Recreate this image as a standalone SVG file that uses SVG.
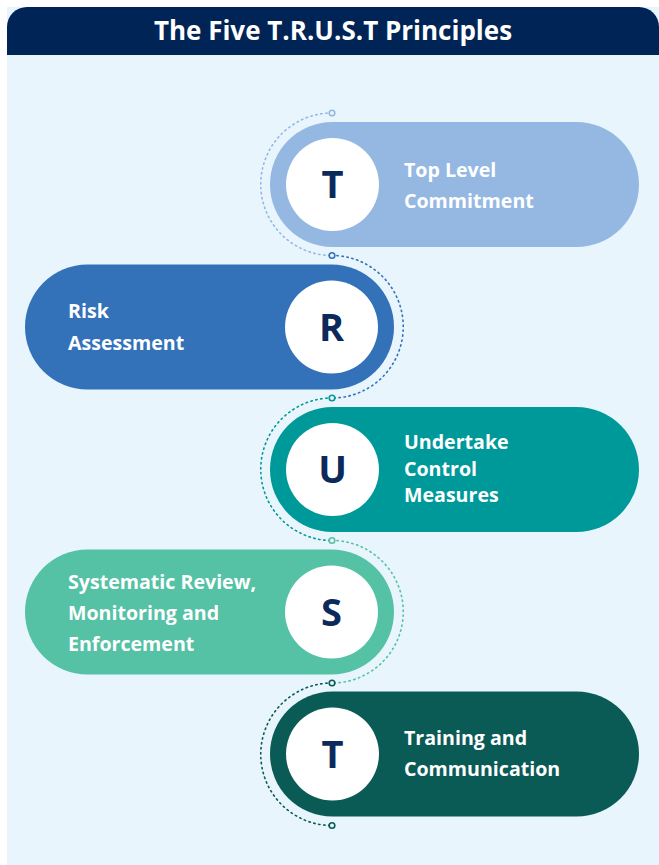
<svg xmlns="http://www.w3.org/2000/svg" width="659" height="865" viewBox="0 0 659 865">
<style>
.lbl{font-family:"Open Sans","Liberation Sans",sans-serif;font-weight:700;font-size:19.6px;fill:#ffffff}
.ltr{font-family:"Open Sans","Liberation Sans",sans-serif;font-weight:700;font-size:38px;fill:#0B2A5B;text-anchor:middle}
.arc{fill:none;stroke-width:1.6;stroke-dasharray:1.4 3.6;stroke-linecap:round}
.dot{fill:#E8F5FC;stroke-width:1.6}
</style>
<rect x="7" y="7" width="652" height="858" fill="#E8F5FC"/>
<path d="M7 55 V27 A20 20 0 0 1 27 7 H639 A20 20 0 0 1 659 27 V55 Z" fill="#012457"/>
<text x="333" y="40" text-anchor="middle" style="font-family:'Open Sans','Liberation Sans',sans-serif;font-weight:700;font-size:26px;fill:#ffffff">The Five T.R.U.S.T Principles</text>
<g id="connectors">
<path class="arc" stroke="#95B8E3" d="M332 113 A71.25 71.25 0 0 0 332 255.5"/>
<path class="arc" stroke="#3371B9" d="M332 255.5 A71.25 71.25 0 0 1 332 398"/>
<path class="arc" stroke="#00999A" d="M332 398 A71.25 71.25 0 0 0 332 540.5"/>
<path class="arc" stroke="#55C1A5" d="M332 540.5 A71.25 71.25 0 0 1 332 683"/>
<path class="arc" stroke="#0A5A56" d="M332 683 A71.25 71.25 0 0 0 332 825.5"/>
<circle class="dot" cx="332" cy="113" r="2.8" stroke="#95B8E3"/>
<circle class="dot" cx="332" cy="255.5" r="2.8" stroke="#3371B9"/>
<circle class="dot" cx="332" cy="398" r="2.8" stroke="#00999A"/>
<circle class="dot" cx="332" cy="540.5" r="2.8" stroke="#55C1A5"/>
<circle class="dot" cx="332" cy="683" r="2.8" stroke="#0A5A56"/>
<circle class="dot" cx="332" cy="825.5" r="2.8" stroke="#0A5A56"/>
</g>
<g id="node-t1">
<rect x="270" y="122" width="369" height="125" rx="62.5" fill="#95B8E3"/>
<circle cx="332.5" cy="184.5" r="46.5" fill="#ffffff"/>
<text class="ltr" x="332.5" y="198">T</text>
<text class="lbl" x="404" y="177">Top Level</text>
<text class="lbl" x="404" y="208">Commitment</text>
</g>
<g id="node-r">
<rect x="25" y="264.5" width="369" height="125" rx="62.5" fill="#3371B9"/>
<circle cx="331.5" cy="327" r="46.5" fill="#ffffff"/>
<text class="ltr" x="331.5" y="340.5">R</text>
<text class="lbl" x="68" y="318">Risk</text>
<text class="lbl" x="68" y="350">Assessment</text>
</g>
<g id="node-u">
<rect x="270" y="407" width="369" height="125" rx="62.5" fill="#00999A"/>
<circle cx="332.5" cy="469.5" r="46.5" fill="#ffffff"/>
<text class="ltr" x="332.5" y="483">U</text>
<text class="lbl" x="404" y="449">Undertake</text>
<text class="lbl" x="404" y="476">Control</text>
<text class="lbl" x="404" y="502">Measures</text>
</g>
<g id="node-s">
<rect x="25" y="549.5" width="369" height="125" rx="62.5" fill="#55C1A5"/>
<circle cx="331.5" cy="612" r="46.5" fill="#ffffff"/>
<text class="ltr" x="331.5" y="625.5">S</text>
<text class="lbl" x="68" y="589">Systematic Review,</text>
<text class="lbl" x="68" y="620">Monitoring and</text>
<text class="lbl" x="68" y="651">Enforcement</text>
</g>
<g id="node-t2">
<rect x="270" y="691.5" width="369" height="125" rx="62.5" fill="#0A5A56"/>
<circle cx="332.5" cy="754" r="46.5" fill="#ffffff"/>
<text class="ltr" x="332.5" y="767.5">T</text>
<text class="lbl" x="404" y="745">Training and</text>
<text class="lbl" x="404" y="776">Communication</text>
</g>
</svg>
